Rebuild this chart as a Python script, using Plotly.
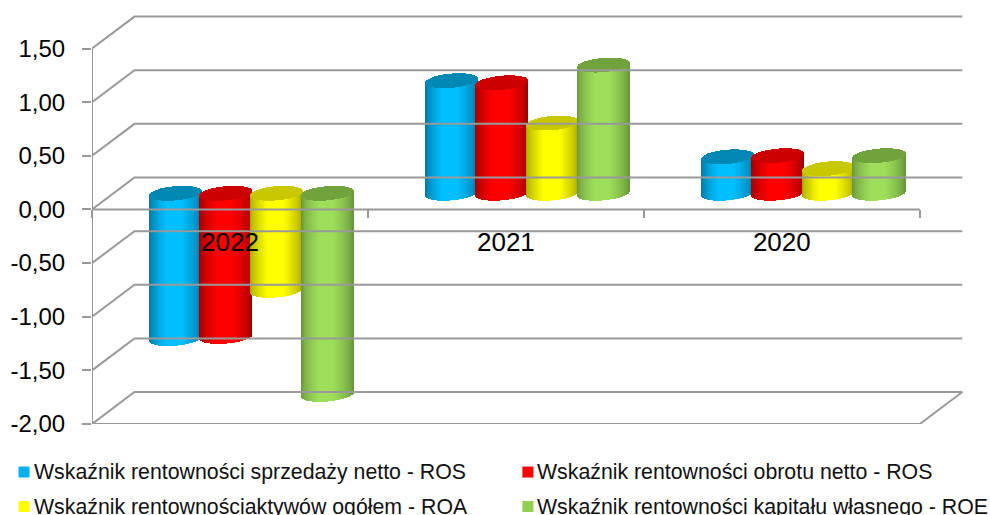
import plotly.graph_objects as go

years = ["2022", "2021", "2020"]
series_names = [
    "Wskaźnik rentowności sprzedaży netto - ROS",
    "Wskaźnik rentowności obrotu netto - ROS",
    "Wskaźnik rentownościaktywów ogółem - ROA",
    "Wskaźnik rentowności kapitału własnego - ROE",
]
ros_sales = [-1.355, 1.05, 0.34]
ros_turnover = [-1.335, 1.03, 0.35]
roa = [-0.905, 0.655, 0.23]
roe = [-1.875, 1.195, 0.35]
series_values = [ros_sales, ros_turnover, roa, roe]

y_ticks = [-2, -1.5, -1, -0.5, 0, 0.5, 1, 1.5]
y_labels = ["-2,00", "-1,50", "-1,00", "-0,50", "0,00", "0,50", "1,00", "1,50"]

legend_colors = ["#00B0F0", "#FF0000", "#FFFF00", "#92D050"]
edge_colors = [(0, 112, 152), (150, 0, 0), (160, 160, 0), (100, 142, 56)]
mid_colors = [(0, 191, 255), (255, 0, 0), (255, 255, 0), (158, 222, 90)]
cap_colors = ["#0088B4", "#CC0000", "#C8C800", "#70A23E"]

# figure geometry (pixels)
W, H = 990, 515
PX_X, PX_Y = 276.0, 107.4
LEFT, ZERO = 91.5, 209.6
XMAX, YMAX, YMIN = 3.2, 1.85, -2.0
m_t = ZERO - YMAX * PX_Y
m_b = H - (ZERO - YMIN * PX_Y)
m_r = W - (LEFT + XMAX * PX_X)

wall_dx, wall_dy = 42.5 / PX_X, 32 / PX_Y
depth_dx, depth_dy = 21.5 / PX_X, 16.2 / PX_Y
cyl_w, cyl_step = 52 / PX_X, 50.6 / PX_X
ell_h, ell_t = 7.1 / PX_Y, 2.2 / PX_Y
N = 54
GRID = "#999999"


def shade(u, edge, mid):
    if u < -0.3:
        f = (u + 1) / 0.7
    elif u > 0.25:
        f = (1 - u) / 0.75
    else:
        f = 1.0
    f = f ** 0.6
    return "rgb(%d,%d,%d)" % tuple(round(e + (m - e) * f) for e, m in zip(edge, mid))


fig = go.Figure()

# walls and floor
wx, wy = [], []
for v in y_ticks:
    wx += [0, wall_dx, 3 + wall_dx, None]
    wy += [v, v + wall_dy, v + wall_dy, None]
wx += [0, 3, 3 + wall_dx, None, 0, 0]
wy += [YMIN, YMIN, YMIN + wall_dy, None, YMIN, y_ticks[-1]]
fig.add_trace(go.Scatter(x=wx, y=wy, mode="lines", line=dict(color=GRID, width=2),
                         showlegend=False, hoverinfo="skip", cliponaxis=False))

# cylinders: a body and a cap per series, each made of narrow bars
for s, vals in enumerate(series_values):
    bx, bb, bh, bc, cx, cb, ch = [], [], [], [], [], [], []
    for g, v in enumerate(vals):
        centre = g + 0.5 + depth_dx + (s - 1.5) * cyl_step
        top = max(v, 0) + depth_dy
        low = min(v, 0) + depth_dy
        for k in range(N):
            u = (k + 0.5) / N * 2 - 1
            x = centre + u * cyl_w / 2
            r = (1 - u * u) ** 0.5 * ell_h
            sh = ell_t * u
            bx.append(x)
            bb.append(low + sh - r)
            bh.append(top - low)
            bc.append(shade(u, edge_colors[s], mid_colors[s]))
            cx.append(x)
            cb.append(top + sh - r)
            ch.append(2 * r)
    fig.add_trace(go.Bar(x=bx, y=bh, base=bb, width=cyl_w / N * 1.5,
                         marker=dict(color=bc, line=dict(width=0)),
                         name=series_names[s], showlegend=False, hoverinfo="skip"))
    fig.add_trace(go.Bar(x=cx, y=ch, base=cb, width=cyl_w / N * 1.5,
                         marker=dict(color=cap_colors[s], line=dict(width=0)),
                         showlegend=False, hoverinfo="skip"))

# zero line drawn over the bars
fig.add_trace(go.Scatter(x=[0, 3], y=[0, 0], mode="lines", line=dict(color=GRID, width=2),
                         showlegend=False, hoverinfo="skip", cliponaxis=False))
# category labels, over the bars
fig.add_trace(go.Scatter(x=[i + 0.5 for i in range(len(years))], y=[-0.33] * len(years),
                         mode="text", text=years, textposition="middle center",
                         textfont=dict(family="Liberation Sans", size=26, color="#000000"),
                         showlegend=False, hoverinfo="skip", cliponaxis=False))

# legend
legend_pos = [(18, 472.5), (522, 472.5), (18, 507), (522, 507)]
annotations, shapes = [], []
for (px, py), name, col in zip(legend_pos, series_names, legend_colors):
    shapes.append(dict(type="rect", xref="paper", yref="paper",
                       x0=(px - LEFT) / (XMAX * PX_X), x1=(px + 11 - LEFT) / (XMAX * PX_X),
                       y0=(H - m_b - (py + 5.5)) / (H - m_t - m_b),
                       y1=(H - m_b - (py - 5.5)) / (H - m_t - m_b),
                       fillcolor=col, line=dict(width=0)))
    annotations.append(dict(text=name, xref="paper", yref="paper", showarrow=False,
                            x=(px + 13 - LEFT) / (XMAX * PX_X),
                            y=(H - m_b - py) / (H - m_t - m_b),
                            xanchor="left", yanchor="middle",
                            font=dict(family="Liberation Sans", size=21.3, color="#111111")))

fig.update_layout(
    width=W, height=H, paper_bgcolor="white", plot_bgcolor="white",
    margin=dict(l=LEFT, r=m_r, t=m_t, b=m_b, pad=0, autoexpand=False),
    barmode="overlay", bargap=0, showlegend=False,
    annotations=annotations, shapes=shapes,
    xaxis=dict(range=[0, XMAX], showgrid=False, zeroline=False, showline=False,
               tickmode="array", tickvals=[0, 1, 2, 3], ticks="outside", ticklen=8,
               tickwidth=2, tickcolor=GRID, showticklabels=False,
               anchor="free", position=(0 - YMIN) / (YMAX - YMIN)),
    yaxis=dict(range=[YMIN, YMAX], showgrid=False, zeroline=False, showline=False,
               tickmode="array", tickvals=y_ticks, ticktext=y_labels, ticks="outside",
               ticklen=9, tickwidth=2, tickcolor=GRID, ticklabelstandoff=12,
               tickfont=dict(family="Liberation Sans", size=24, color="#000000")),
)

fig.write_html("out.html", config=dict(displayModeBar=False),
               post_script="document.body.style.margin='0';document.body.style.overflow='hidden';")
